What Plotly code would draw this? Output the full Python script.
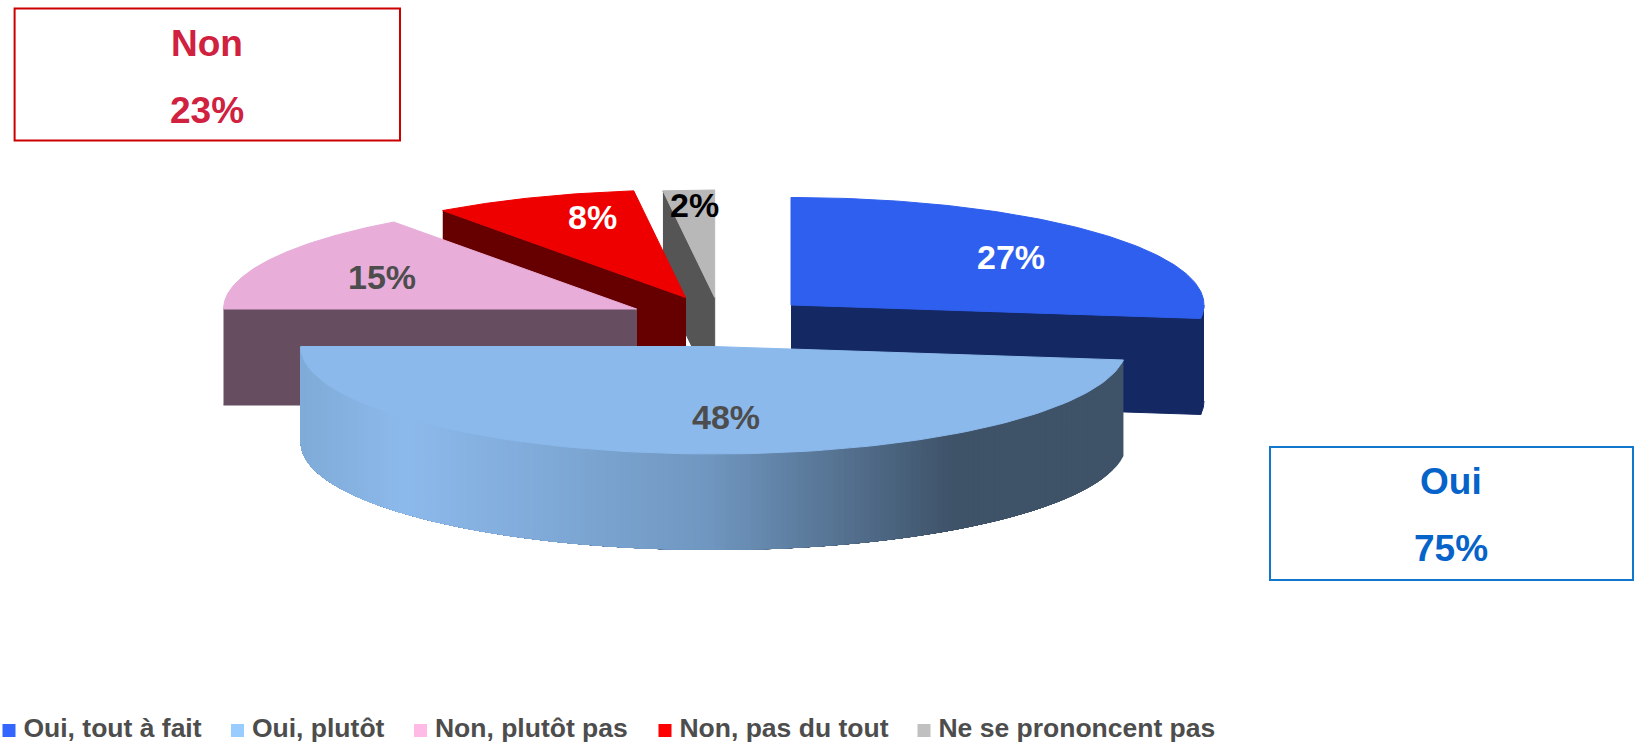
import numpy as np
import plotly.graph_objects as go

# ---- data ----
categories = ["Oui, tout à fait", "Oui, plutôt", "Non, plutôt pas", "Non, pas du tout", "Ne se prononcent pas"]
values = [27, 48, 15, 8, 2]
labels = ["27%", "48%", "15%", "8%", "2%"]
group_names = ["Non", "Oui"]
group_values = ["23%", "75%"]

# ---- style / layout ----
W, H = 1636, 744
top_colors = ["#2f5fee", "#8cb9ec", "#e8aed9", "#ee0000", "#b8b8b8"]
wall_colors = ["#142864", None, "#664d60", "#660000", "#555555"]
legend_colors = ["#3366ff", "#99ccff", "#ffbbe5", "#ff0000", "#c0c0c0"]
label_colors = ["#ffffff", "#4d4d4d", "#4d4d4d", "#ffffff", "#000000"]
centers_x = [791, 713.7, 636.5, 685.5, 714.7]
centers_y = [305, 346.5, 309, 297.5, 297.5]
label_x = [1011, 726, 382, 592, 694]
label_y = [257, 417, 276.5, 217, 204.5]
legend_x = [9, 237.5, 420.5, 665, 924]
LEGEND_Y = 730.5
RX, RY, DEPTH = 413, 107.5, 96
FONT = "Liberation Sans"

grad_stops = [(0.0, "#7fabd8"), (0.13, "#8dbaec"), (0.5, "#7097c0"), (0.8, "#3e5268"), (1.0, "#3e5268")]


def rgb(h):
    return np.array([int(h[i:i + 2], 16) for i in (1, 3, 5)], float)


def grad(t):
    pos = [s[0] for s in grad_stops]
    cols = np.array([rgb(s[1]) for s in grad_stops])
    c = [np.interp(t, pos, cols[:, k]) for k in range(3)]
    return "rgb(%d,%d,%d)" % tuple(c)


def point(cx, cy, theta):
    return cx + RX * np.sin(theta), cy - RY * np.cos(theta)


def poly(fig, xs, ys, color, lw=1):
    fig.add_trace(go.Scatter(x=list(xs), y=list(ys), mode="lines", fill="toself", fillcolor=color,
                             line=dict(color=color, width=lw), showlegend=False, hoverinfo="skip"))


fig = go.Figure()

bounds = 2 * np.pi * np.concatenate([[0], np.cumsum(values)]) / sum(values)

# painter's order: back slices first, front slice last
for i in [4, 3, 2, 0, 1]:
    cx, cy = centers_x[i], centers_y[i]
    a0, a1 = bounds[i], bounds[i + 1]
    th = np.linspace(a0, a1, 120)
    ex, ey = point(cx, cy, th)
    if i == 1:
        # curved front wall: horizontal gradient painted right to left, each band overlapping the next
        xmax = cx + RX * np.sin(a0)
        xmin = cx - RX
        for xk in np.linspace(xmax, xmin, 160)[:-1]:
            start = np.pi - np.arcsin(np.clip((xk - cx) / RX, -1, 1))
            sub = np.linspace(start, a1, 60)
            sx, sy = point(cx, cy, sub)
            poly(fig, np.r_[sx, sx[::-1]], np.r_[sy, sy[::-1] + DEPTH], grad((xk - xmin) / (xmax - xmin)), lw=0)
    elif i == 0:
        # cut face from the centre to the end of the slice, plus its outer rim
        rim = np.linspace(np.pi / 2, a1, 12)
        rx_, ry_ = point(cx, cy, rim)
        poly(fig, np.r_[rx_, rx_[::-1]], np.r_[ry_, ry_[::-1] + DEPTH], wall_colors[i])
        poly(fig, [cx, rx_[-1], rx_[-1], cx], [cy, ry_[-1], ry_[-1] + DEPTH, cy + DEPTH], wall_colors[i])
    else:
        px, py = point(cx, cy, a0)
        poly(fig, [px, cx, cx, px], [py, cy, cy + DEPTH, py + DEPTH], wall_colors[i])
    poly(fig, np.r_[cx, ex, cx], np.r_[cy, ey, cy], top_colors[i])

# legend row
for name, col, lx in zip(categories, legend_colors, legend_x):
    fig.add_trace(go.Scatter(x=[lx], y=[LEGEND_Y], mode="markers+text", name=name, showlegend=False,
                             text=["<b>\u2009%s</b>" % name], textposition="middle right",
                             textfont=dict(family=FONT, size=26.5, color="#4d4d4d"),
                             marker=dict(symbol="square", size=13, color=col), hoverinfo="skip"))

annotations = []
for t, x, y, c in zip(labels, label_x, label_y, label_colors):
    annotations.append(dict(x=x, y=y, text="<b>%s</b>" % t, showarrow=False,
                            font=dict(family=FONT, size=34, color=c)))

# group boxes
boxes = [
    dict(x0=14.6, x1=400, y0=8.5, y1=140.5, color="#cc0000", text="#d0213f", cx=207, y_name=43, y_val=110.5),
    dict(x0=1270, x1=1633, y0=447, y1=580, color="#1177cc", text="#0563c9", cx=1451, y_name=481, y_val=548),
]
shapes = []
for b, n, v in zip(boxes, group_names, group_values):
    shapes.append(dict(type="rect", xref="x", yref="y", x0=b["x0"], x1=b["x1"], y0=b["y0"], y1=b["y1"],
                       line=dict(color=b["color"], width=2), fillcolor="rgba(0,0,0,0)"))
    for t, y in ((n, b["y_name"]), (v, b["y_val"])):
        annotations.append(dict(x=b["cx"], y=y, text="<b>%s</b>" % t, showarrow=False,
                                font=dict(family=FONT, size=37, color=b["text"])))

fig.update_layout(
    width=W, height=H, margin=dict(l=0, r=0, t=0, b=0, autoexpand=False),
    paper_bgcolor="white", plot_bgcolor="white",
    xaxis=dict(range=[0, W], visible=False, fixedrange=True),
    yaxis=dict(range=[H, 0], visible=False, fixedrange=True),
    annotations=annotations, shapes=shapes,
    showlegend=False,
)
# the page's default 8px body margin would shift and clip the figure
fig.write_html("out.html", config={"displayModeBar": False},
               post_script="document.body.style.margin='0';")
